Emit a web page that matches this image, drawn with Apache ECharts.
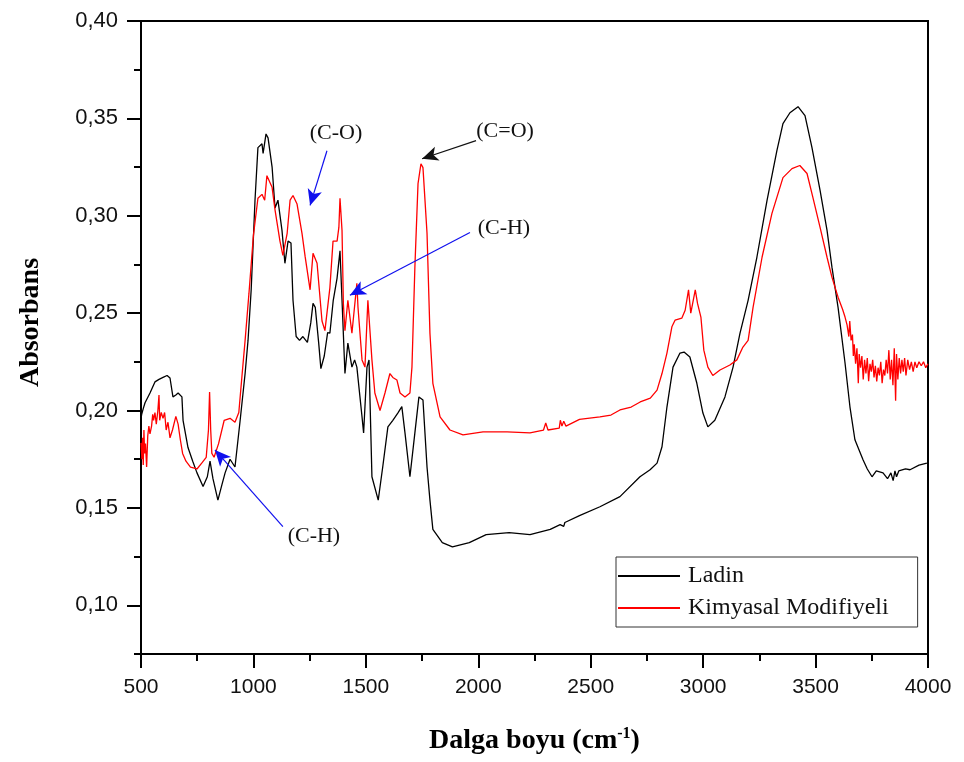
<!DOCTYPE html>
<html>
<head>
<meta charset="utf-8">
<title>FTIR spektrumu</title>
<script src="https://cdn.jsdelivr.net/npm/echarts@6/dist/echarts.min.js"></script>
<style>
  html, body { margin: 0; padding: 0; background: #fff; }
  #chart { width: 964px; height: 762px; }
</style>
</head>
<body>
<div id="chart"></div>
<script>
// FTIR absorbance spectra: untreated spruce (Ladin) vs chemically modified wood
const ladinWave = [
  500, 503, 510, 518, 540, 562, 580, 598, 616, 629, 642, 655, 665, 682, 687, 709, 730, 749, 776, 795,
  807, 820, 842, 860, 874, 896, 918, 940, 963, 976, 990, 1007, 1020, 1038, 1043, 1056, 1065, 1083, 1096, 1109,
  1127, 1140, 1154, 1167, 1176, 1190, 1205, 1220, 1240, 1255, 1265, 1275, 1290, 1300, 1315, 1330, 1340, 1355, 1372, 1385,
  1394, 1407, 1420, 1438, 1450, 1460, 1483, 1490, 1505, 1514, 1527, 1555, 1575, 1598, 1620, 1642, 1660, 1674, 1696, 1718,
  1736, 1754, 1772, 1785, 1798, 1840, 1885, 1960, 2035, 2137, 2230, 2320, 2364, 2380, 2385, 2450, 2541, 2630, 2719, 2764,
  2795, 2817, 2839, 2866, 2897, 2915, 2941, 2972, 2999, 3021, 3052, 3097, 3133, 3164, 3200, 3239, 3284, 3328, 3355, 3386,
  3422, 3453, 3484, 3520, 3551, 3573, 3600, 3631, 3653, 3675, 3711, 3730, 3751, 3770, 3800, 3820, 3835, 3845, 3853, 3860,
  3870, 3900, 3920, 3960, 3995
];
const ladinAbs = [
  0.196, 0.198, 0.201, 0.204, 0.209, 0.2147, 0.216, 0.217, 0.218, 0.2167, 0.207, 0.208, 0.209, 0.207, 0.195, 0.181, 0.174, 0.168, 0.161, 0.166,
  0.174, 0.165, 0.154, 0.162, 0.168, 0.175, 0.171, 0.194, 0.219, 0.236, 0.262, 0.308, 0.335, 0.337, 0.332, 0.342, 0.340, 0.325, 0.304, 0.308,
  0.2925, 0.2756, 0.287, 0.286, 0.2566, 0.238, 0.236, 0.238, 0.235, 0.245, 0.255, 0.253, 0.235, 0.2215, 0.228, 0.240, 0.2397, 0.2566, 0.268, 0.282,
  0.2566, 0.219, 0.2346, 0.2223, 0.226, 0.2223, 0.1967, 0.1885, 0.2223, 0.226, 0.166, 0.154, 0.171, 0.1916, 0.195, 0.1987, 0.202, 0.1885, 0.166, 0.1885,
  0.207, 0.2054, 0.171, 0.154, 0.139, 0.1322, 0.130, 0.1322, 0.1363, 0.1373, 0.1363, 0.139, 0.1414, 0.1405, 0.1425, 0.146, 0.1506, 0.1558, 0.166, 0.1696,
  0.173, 0.1814, 0.2018, 0.2223, 0.2295, 0.230, 0.2275, 0.214, 0.1987, 0.1916, 0.195, 0.207, 0.2223, 0.2397, 0.2566, 0.2787, 0.3078, 0.3334, 0.3473, 0.3529,
  0.356, 0.3514, 0.335, 0.313, 0.2925, 0.2735, 0.253, 0.2244, 0.2018, 0.185, 0.1747, 0.170, 0.166, 0.169, 0.168, 0.165, 0.168, 0.164, 0.169, 0.166,
  0.169, 0.170, 0.1696, 0.172, 0.173
];

const modWave = [
  500, 504, 507, 510, 513, 516, 520, 525, 530, 535, 540, 547, 552, 556, 562, 568, 575, 580, 583, 590,
  598, 605, 612, 620, 629, 640, 655, 665, 675, 685, 700, 720, 749, 770, 790, 800, 805, 810, 815, 825,
  845, 870, 896, 918, 935, 950, 963, 980, 1000, 1020, 1038, 1050, 1060, 1083, 1096, 1118, 1131, 1150, 1163, 1176,
  1194, 1216, 1230, 1252, 1265, 1283, 1305, 1318, 1340, 1354, 1372, 1380, 1385, 1394, 1400, 1407, 1420, 1438, 1460, 1465,
  1483, 1496, 1509, 1527, 1540, 1563, 1585, 1607, 1620, 1638, 1652, 1674, 1696, 1705, 1718, 1732, 1745, 1754, 1772, 1785,
  1798, 1830, 1874, 1932, 2021, 2128, 2230, 2290, 2300, 2310, 2360, 2365, 2372, 2380, 2390, 2450, 2541, 2590, 2630, 2680,
  2720, 2765, 2795, 2817, 2839, 2861, 2875, 2905, 2920, 2935, 2945, 2965, 2975, 2990, 3003, 3021, 3043, 3075, 3119, 3150,
  3177, 3200, 3222, 3262, 3306, 3355, 3395, 3430, 3462, 3488, 3520, 3551, 3573, 3600, 3620, 3631, 3640, 3648, 3652, 3658,
  3664, 3668, 3672, 3678, 3684, 3690, 3694, 3700, 3706, 3712, 3718, 3724, 3730, 3736, 3742, 3748, 3754, 3760, 3766, 3772,
  3778, 3784, 3790, 3796, 3802, 3808, 3814, 3820, 3826, 3832, 3838, 3844, 3850, 3856, 3860, 3866, 3872, 3878, 3884, 3890,
  3896, 3902, 3910, 3918, 3926, 3934, 3942, 3950, 3960, 3970, 3980, 3990, 4000
];
const modAbs = [
  0.1834, 0.175, 0.186, 0.172, 0.190, 0.178, 0.183, 0.171, 0.187, 0.192, 0.188, 0.192, 0.198, 0.195, 0.199, 0.193, 0.200, 0.208, 0.195, 0.199,
  0.196, 0.199, 0.190, 0.194, 0.186, 0.190, 0.197, 0.193, 0.185, 0.178, 0.174, 0.171, 0.170, 0.173, 0.176, 0.190, 0.2095, 0.190, 0.178, 0.176,
  0.183, 0.195, 0.196, 0.194, 0.199, 0.219, 0.236, 0.260, 0.290, 0.309, 0.311, 0.308, 0.3206, 0.3146, 0.303, 0.287, 0.2797, 0.291, 0.308, 0.3104,
  0.306, 0.291, 0.279, 0.262, 0.2807, 0.2756, 0.246, 0.241, 0.263, 0.287, 0.287, 0.294, 0.309, 0.2925, 0.255, 0.241, 0.2566, 0.2397, 0.2653, 0.253,
  0.226, 0.2223, 0.2566, 0.226, 0.209, 0.200, 0.209, 0.219, 0.217, 0.2157, 0.209, 0.207, 0.209, 0.2223, 0.2735, 0.3165, 0.3267, 0.3247, 0.291, 0.2397,
  0.214, 0.1967, 0.190, 0.1875, 0.189, 0.189, 0.1885, 0.190, 0.1936, 0.190, 0.191, 0.195, 0.192, 0.1945, 0.192, 0.1955, 0.1967, 0.1977, 0.2003, 0.2018,
  0.2044, 0.2064, 0.2105, 0.219, 0.2295, 0.243, 0.2464, 0.2474, 0.2515, 0.262, 0.250, 0.262, 0.255, 0.248, 0.231, 0.2223, 0.218, 0.2208, 0.2234, 0.226,
  0.2326, 0.236, 0.253, 0.2787, 0.3012, 0.3196, 0.3242, 0.3258, 0.3217, 0.3094, 0.294, 0.2787, 0.2684, 0.2582, 0.252, 0.248, 0.244, 0.238, 0.246, 0.236,
  0.239, 0.228, 0.234, 0.224, 0.232, 0.214, 0.229, 0.222, 0.228, 0.216, 0.226, 0.219, 0.227, 0.215, 0.224, 0.220, 0.226, 0.217, 0.223, 0.215,
  0.222, 0.218, 0.225, 0.214, 0.221, 0.218, 0.226, 0.219, 0.231, 0.216, 0.226, 0.213, 0.232, 0.205, 0.229, 0.216, 0.227, 0.219, 0.226, 0.220,
  0.227, 0.218, 0.226, 0.221, 0.225, 0.220, 0.225, 0.222, 0.225, 0.223, 0.225, 0.222, 0.224
];

// Axis ticks and labels
const yMajorTicks = [0.10, 0.15, 0.20, 0.25, 0.30, 0.35, 0.40];
const yMinorTicks = [0.075, 0.125, 0.175, 0.225, 0.275, 0.325, 0.375];

// Band assignments: label text, label anchor, arrow start, arrow tip, arrow colour
const bandNames = ['(C-O)', '(C=O)', '(C-H)', '(C-H)'];
const bandLabelAt = [[1367, 0.3425], [2119, 0.3436], [2114, 0.2938], [1269, 0.1353]];
const bandArrowFrom = [[1327, 0.3334], [1990, 0.3386], [1963, 0.2914], [1131, 0.1404]];
const bandArrowTo = [[1252, 0.3053], [1750, 0.3293], [1429, 0.2592], [829, 0.1798]];
const bandColors = ['#1010ee', '#111111', '#1010ee', '#1010ee'];

const zip = (xs, ys) => xs.map((x, i) => [x, ys[i]]);

const serifFont = '"Liberation Serif", "Times New Roman", serif';
const sansFont = '"Liberation Sans", Arial, sans-serif';

const chart = echarts.init(document.getElementById('chart'), null, { renderer: 'canvas' });

chart.setOption({
  animation: false,
  backgroundColor: '#ffffff',
  grid: {
    left: 141, top: 21, width: 787, height: 633,
    show: true, borderColor: '#000', borderWidth: 2, backgroundColor: 'transparent'
  },
  legend: {
    orient: 'vertical',
    left: 616, top: 557,
    itemWidth: 62, itemHeight: 2, itemGap: 8,
    padding: [7, 29, 7, 2],
    borderColor: '#333', borderWidth: 1,
    backgroundColor: '#fff',
    textStyle: { fontFamily: serifFont, fontSize: 24, color: '#111', padding: [0, 0, 0, 3] },
    data: [
      { name: 'Ladin', icon: 'rect' },
      { name: 'Kimyasal Modifiyeli', icon: 'rect' }
    ]
  },
  xAxis: {
    type: 'value',
    min: 500, max: 4000, interval: 500,
    name: 'Dalga boyu (cm{sup|-1})',
    nameLocation: 'middle',
    nameGap: 72,
    nameTextStyle: {
      fontFamily: serifFont, fontWeight: 'bold', fontSize: 28, color: '#000',
      rich: { sup: { fontFamily: serifFont, fontWeight: 'bold', fontSize: 16, verticalAlign: 'top', padding: [0, 0, 14, 0], color: '#000' } }
    },
    axisLine: { onZero: false, lineStyle: { color: '#000', width: 2 } },
    axisTick: { inside: false, length: 14, lineStyle: { color: '#000', width: 2 } },
    minorTick: { show: true, splitNumber: 2, length: 7, lineStyle: { color: '#000', width: 2 } },
    axisLabel: { fontFamily: sansFont, fontSize: 21, color: '#111', margin: 23, formatter: v => String(v) },
    splitLine: { show: false }
  },
  yAxis: [
    {
      type: 'value',
      min: 0.075, max: 0.40,
      name: 'Absorbans',
      nameLocation: 'middle',
      nameGap: 96,
      nameTextStyle: { fontFamily: serifFont, fontWeight: 'bold', fontSize: 28, color: '#000', padding: [0, 0, 0, 30] },
      axisLine: { onZero: false, lineStyle: { color: '#000', width: 2 } },
      axisTick: { inside: false, length: 14, customValues: yMajorTicks, lineStyle: { color: '#000', width: 2 } },
      axisLabel: {
        customValues: yMajorTicks,
        fontFamily: sansFont, fontSize: 22, color: '#111', margin: 23,
        formatter: v => v.toFixed(2).replace('.', ',')
      },
      splitLine: { show: false }
    },
    {
      type: 'value',
      min: 0.075, max: 0.40,
      position: 'left',
      axisLine: { show: false },
      axisTick: { inside: false, length: 7, customValues: yMinorTicks, lineStyle: { color: '#000', width: 2 } },
      axisLabel: { show: false },
      splitLine: { show: false }
    }
  ],
  series: [
    {
      name: 'Ladin',
      type: 'line',
      symbol: 'none',
      yAxisIndex: 0,
      lineStyle: { color: '#000', width: 1.3 },
      itemStyle: { color: '#000' },
      data: zip(ladinWave, ladinAbs)
    },
    {
      name: 'Kimyasal Modifiyeli',
      type: 'line',
      symbol: 'none',
      yAxisIndex: 0,
      lineStyle: { color: '#ff0000', width: 1.3 },
      itemStyle: { color: '#ff0000' },
      data: zip(modWave, modAbs),
      markLine: {
        silent: true,
        symbol: ['none', 'arrow'],
        symbolSize: [11, 16],
        label: { show: false },
        data: bandArrowFrom.map((p, i) => [
          { coord: p, lineStyle: { color: bandColors[i], width: 1.2, type: 'solid' }, itemStyle: { color: bandColors[i] } },
          { coord: bandArrowTo[i] }
        ])
      },
      markPoint: {
        silent: true,
        symbol: 'circle',
        symbolSize: 0,
        label: {
          show: true,
          position: 'inside',
          fontFamily: serifFont,
          fontSize: 22,
          color: '#111'
        },
        data: bandNames.map((t, i) => ({ coord: bandLabelAt[i], value: t, label: { formatter: t } }))
      }
    }
  ]
});
</script>
</body>
</html>
